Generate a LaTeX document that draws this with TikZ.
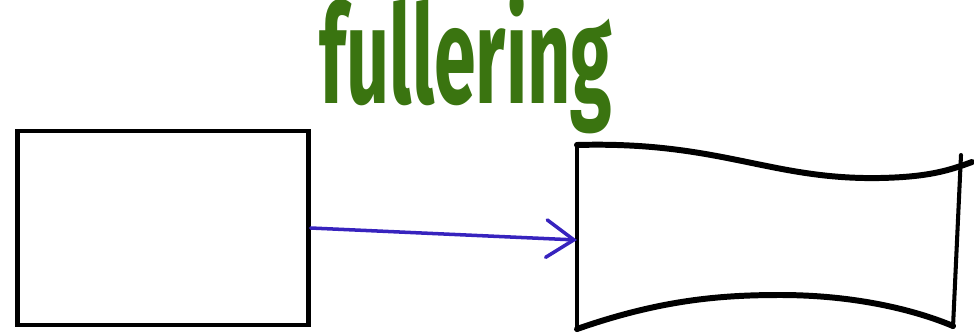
\documentclass[tikz,border=0pt]{standalone}
\usepackage{fontspec}
\setsansfont{Fira Sans}
\usepackage{tikz}
\usetikzlibrary{arrows.meta,positioning}
\definecolor{FullerGreen}{RGB}{58,116,16}
\definecolor{FlowBlue}{RGB}{55,35,190}

\begin{document}
\begin{tikzpicture}[x=0.02cm,y=-0.02cm]
  \useasboundingbox (0,0) rectangle (974,335);
  \node[draw,line width=2.5pt,minimum width=5.82cm,minimum height=3.88cm,inner sep=0pt] (billet) at (163,228) {};
  % fullered bar
  \draw[line width=3.4pt,line cap=round] (577,145) .. controls (720,141) and (770,180) .. (880,178) .. controls (930,177) and (950,170) .. (972,162);
  \draw[line width=3.4pt,line cap=round] (577,329) .. controls (660,300) and (720,295) .. (780,295) .. controls (860,295) and (920,312) .. (953,326);
  \draw[line width=2.3pt,line cap=round] (577,144) -- (577,330);
  \draw[line width=2.3pt,line cap=round] (961,155) -- (953,327);
  \coordinate (bar) at (577,240);
  \draw[FlowBlue,line width=2pt,line cap=round,-{Straight Barb[length=0.55cm,width=0.75cm,line cap=round]}] (billet.east) -- (bar);
  \node[FullerGreen,font=\sffamily\bfseries\fontsize{78}{78}\selectfont,anchor=base] (label) at (466,103) {\scalebox{0.55}[1]{fullering}};
\end{tikzpicture}
\end{document}
